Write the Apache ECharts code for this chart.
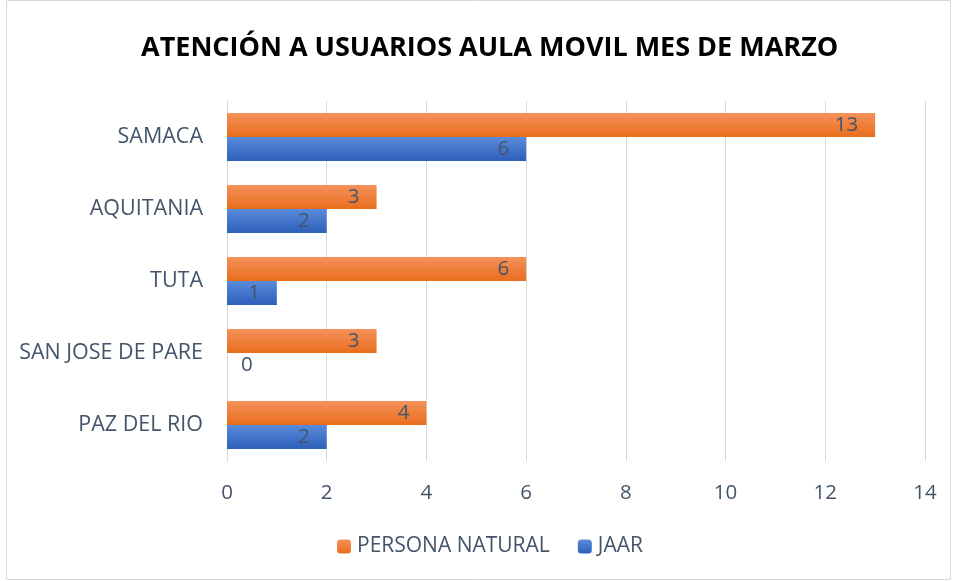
<!DOCTYPE html>
<html>
<head>
<meta charset="utf-8">
<script src="https://cdn.jsdelivr.net/npm/echarts@6/dist/echarts.min.js"></script>
<style>
  html, body { margin: 0; padding: 0; background: #fff; }
  #chart { width: 957px; height: 581px; }
</style>
</head>
<body>
<div id="chart"></div>
<script>
var categories = ["PAZ DEL RIO", "SAN JOSE DE PARE", "TUTA", "AQUITANIA", "SAMACA"];
var personaNatural = [4, 3, 6, 3, 13];
var jaar = [2, 0, 1, 2, 6];
var xTicks = { min: 0, max: 14, interval: 2 };

var FONT = "'Open Sans', sans-serif";
var TEXT = "#44546A";

function grad(top, bottom) {
  return new echarts.graphic.LinearGradient(0, 0, 0, 1, [
    { offset: 0, color: top },
    { offset: 1, color: bottom }
  ]);
}

// zero-width bar: Excel puts the label just past the axis
function withZeroLabel(list) {
  return list.map(function (v) {
    if (v === 0) return { value: v, label: { position: "right", distance: 14 } };
    return v;
  });
}

var chart = echarts.init(document.getElementById("chart"));

chart.setOption({
  animation: false,
  textStyle: { fontFamily: FONT },
  title: {
    text: "ATENCIÓN A USUARIOS AULA MOVIL MES DE MARZO",
    left: 136,
    top: 30,
    textStyle: { fontFamily: FONT, fontSize: 27, fontWeight: "bold", color: "#000" }
  },
  graphic: [{
    type: "rect",
    shape: { x: 6.5, y: 0.5, width: 944, height: 579 },
    style: { fill: "none", stroke: "#D9D9D9", lineWidth: 1 },
    silent: true
  }],
  legend: {
    bottom: 19,
    left: 332,
    itemWidth: 14,
    itemHeight: 14,
    itemGap: 28,
    data: ["PERSONA NATURAL", "JAAR"],
    textStyle: { color: TEXT, fontSize: 21, fontFamily: FONT, padding: [0, 0, 0, 1] }
  },
  grid: { left: 227, right: 32, top: 101, bottom: 120 },
  xAxis: {
    type: "value",
    min: xTicks.min,
    max: xTicks.max,
    interval: xTicks.interval,
    axisLine: { show: false },
    axisTick: { show: false },
    axisLabel: { color: TEXT, fontSize: 20.5, margin: 22 },
    splitLine: { lineStyle: { color: "#D9D9D9", width: 1 } }
  },
  yAxis: {
    type: "category",
    data: categories,
    axisLine: { show: true, lineStyle: { color: "#D9D9D9" } },
    axisTick: { show: false },
    axisLabel: { color: TEXT, fontSize: 21.5, margin: 24 }
  },
  series: [
    {
      name: "PERSONA NATURAL",
      type: "bar",
      data: withZeroLabel(personaNatural),
      barWidth: 24,
      barGap: "0%",
      itemStyle: { color: grad("#F4925C", "#E86E1C") },
      label: { show: true, position: "insideRight", distance: 17, color: TEXT, fontSize: 20.5 }
    },
    {
      name: "JAAR",
      type: "bar",
      data: withZeroLabel(jaar),
      barWidth: 24,
      barGap: "0%",
      itemStyle: { color: grad("#5B8BDA", "#2C5FBB") },
      label: { show: true, position: "insideRight", distance: 17, color: TEXT, fontSize: 20.5 }
    }
  ]
});
</script>
</body>
</html>
